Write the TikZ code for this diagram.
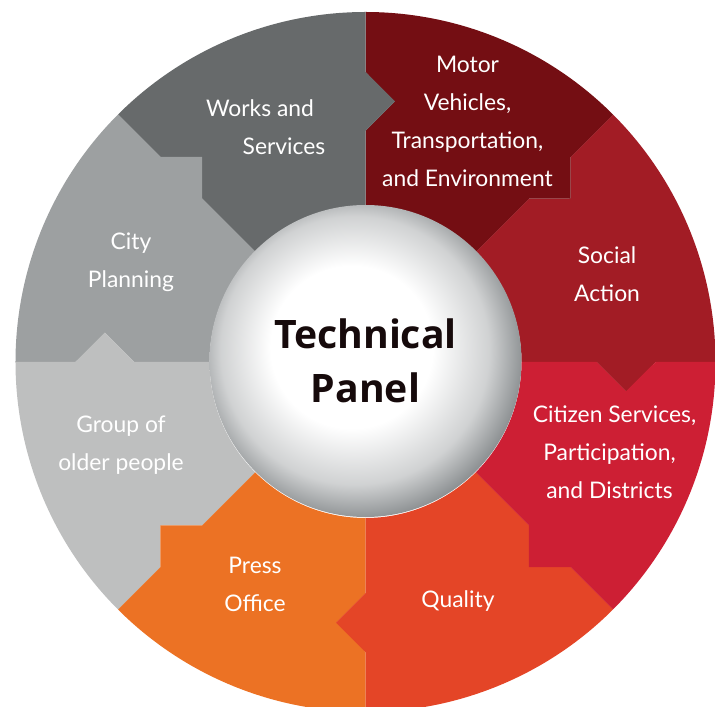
\documentclass[tikz,border=0pt]{standalone}
\usepackage{fontspec}
\setmainfont{Lato}
\newfontfamily\titlefont{Open Sans}
\usepackage{tikz}
\usetikzlibrary{calc, positioning, shapes.geometric}
\tikzset{
	wedge/.style={
		insert path={(0:3.12) -- (4.62,0) -- (5.21,-0.59) -- (5.8,0) -- (7,0) arc (0:45:7) -- (45:5.8) -- (4.10,3.27) -- (45:4.62) -- (45:3.12) arc (45:0:3.12) -- cycle}
	},
	area text/.style={text=white, align=center, font=\fontsize{13}{21.6}\selectfont, inner sep=0pt}
}
\definecolor{SocialRed}{HTML}{A21C25}
\definecolor{MotorRed}{HTML}{740E13}
\definecolor{WorksGray}{HTML}{676A6B}
\definecolor{CityGray}{HTML}{9DA0A1}
\definecolor{GroupGray}{HTML}{BEBFBF}
\definecolor{PressOrange}{HTML}{EC7224}
\definecolor{QualityRed}{HTML}{E44527}
\definecolor{CitizenRed}{HTML}{CD1F34}
\definecolor{PanelRim}{HTML}{8A8E90}
\definecolor{TitleInk}{HTML}{160A0B}
\pgfdeclareradialshading{panelglow}{\pgfpoint{-3bp}{3bp}}{color(0bp)=(white); color(13bp)=(white); color(21.5bp)=(PanelRim!40); color(27bp)=(PanelRim); color(50bp)=(PanelRim)}

\begin{document}
\begin{tikzpicture}
	\useasboundingbox (-7.31,-6.88) rectangle (6.99,7.24);
	
	\fill[SocialRed, rotate=0] (0,0) [wedge];
	\fill[MotorRed, rotate=45] (0,0) [wedge];
	\fill[WorksGray, rotate=90] (0,0) [wedge];
	\fill[CityGray, rotate=135] (0,0) [wedge];
	\fill[GroupGray, rotate=180] (0,0) [wedge];
	\fill[PressOrange, rotate=225] (0,0) [wedge];
	\fill[QualityRed, rotate=270] (0,0) [wedge];
	\fill[CitizenRed, rotate=315] (0,0) [wedge];
	
	\node[circle, minimum size=6.24cm, inner sep=0pt, shade, shading=panelglow, text=TitleInk, align=center, font=\titlefont\fontsize{22.3}{30.7}\selectfont\bfseries] (panel) at (0,0.02) {Technical\\Panel};
	
	\node[area text] (motor) at (2.04,4.81) {Motor\\Vehicles,\\Transportation,\\and Environment};
	\node[area text] (social) at (4.83,1.76) {Social\\Action};
	\node[area text] (citizen) at (4.88,-1.80) {\hspace*{0.2cm}Citizen Services,\\Participation,\\and Districts};
	\node[area text] (quality) at (1.85,-4.78) {Quality};
	\node[area text] (press) at (-2.21,-4.45) {Press\\Office};
	\node[area text] (group) at (-4.89,-1.66) {Group of\\older people};
	\node[area text] (city) at (-4.69,2.0) {City\\Planning};
	\node[area text] (works) at (-2.11,5.08) {Works and};
	\node[area text] (services) at (-1.63,4.32) {Services};
\end{tikzpicture}
\end{document}
